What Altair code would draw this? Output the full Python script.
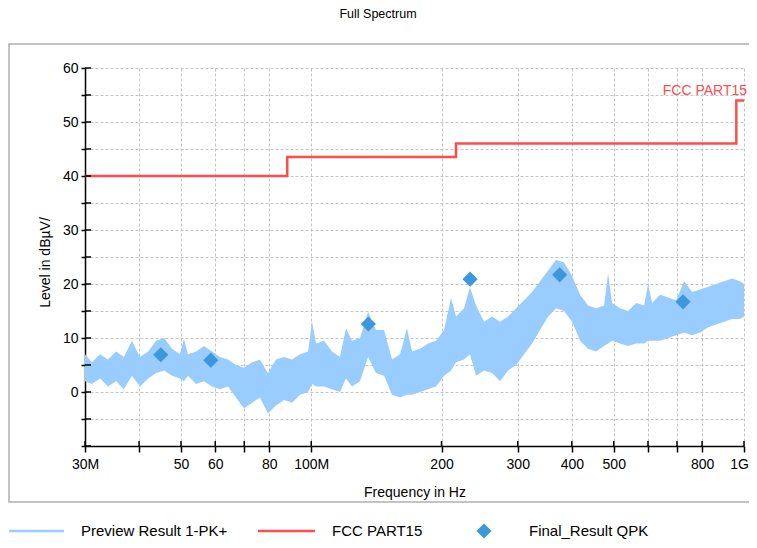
import altair as alt
import pandas as pd

# ---- data ----
freq_mhz = [30.0, 31.1, 32.5, 33.9, 35.4, 36.9, 38.5, 40.2, 42.0, 43.8, 45.7, 47.7, 49.7, 50.8,
            51.9, 54.2, 56.5, 59.0, 61.5, 64.2, 67.0, 69.9, 73.0, 76.1, 79.4, 82.9, 86.5, 90.3,
            94.2, 98.3, 100.4, 102.6, 107.0, 111.7, 116.5, 120.3, 124.2, 129.6, 135.3, 141.1,
            147.3, 153.7, 160.4, 166.4, 171.0, 178.4, 186.2, 194.3, 202.7, 210.4, 216.1, 225.4,
            232.7, 240.3, 250.8, 261.7, 273.1, 285.0, 297.4, 310.3, 323.8, 337.9, 352.6, 367.9,
            383.9, 400.6, 418.0, 436.2, 455.2, 475.0, 485.2, 495.6, 517.2, 539.7, 563.2, 587.7,
            600.3, 613.2, 639.9, 667.7, 696.8, 727.1, 758.7, 791.7, 826.2, 862.1, 899.6, 938.7,
            979.5, 1000.0]
band_hi = [7.0, 5.5, 7.0, 6.0, 7.5, 6.5, 9.5, 6.5, 7.5, 9.5, 10.0, 8.0, 7.0, 9.8,
           7.0, 7.5, 8.5, 7.5, 6.5, 6.0, 5.0, 4.5, 5.5, 6.0, 3.5, 6.0, 6.5, 6.0,
           7.0, 7.5, 13.0, 9.0, 9.5, 7.5, 6.5, 11.8, 9.5, 10.0, 14.8, 11.5,
           11.5, 6.0, 7.0, 11.8, 7.5, 8.0, 9.0, 9.5, 11.5, 17.4, 14.0, 15.5,
           19.4, 16.0, 13.0, 14.0, 13.0, 14.0, 15.5, 17.0, 18.5, 20.5, 22.5, 24.5,
           24.0, 21.5, 18.0, 16.0, 15.5, 16.0, 22.0, 16.5, 15.5, 15.0, 16.5, 16.0,
           20.0, 16.5, 18.0, 17.5, 17.0, 20.5, 18.5, 19.0, 19.5, 20.0, 20.5, 21.0,
           20.5, 20.0]
band_lo = [2.0, 1.5, 2.5, 1.0, 2.0, 0.5, 3.0, 1.0, 2.5, 3.5, 4.0, 3.0, 2.5, 2.0,
           3.0, 1.5, 2.0, 1.0, 0.5, 1.0, -1.0, -3.0, -2.0, -1.0, -4.0, -2.5, -1.5, -2.0,
           -0.5, 0.0, 1.5, 1.0, 1.0, 0.5, 0.0, 2.5, 1.0, 2.0, 6.5, 3.5,
           3.0, -0.5, -1.0, -0.5, -0.5, 0.0, 0.5, 1.0, 3.0, 4.0, 5.5, 6.0,
           7.0, 3.0, 4.0, 3.5, 2.0, 4.0, 5.0, 7.0, 9.0, 11.5, 14.0, 15.5,
           15.0, 13.0, 9.5, 8.0, 7.5, 8.5, 9.0, 9.5, 9.0, 8.5, 9.0, 9.0,
           9.5, 9.5, 9.5, 10.0, 10.5, 11.0, 10.5, 11.0, 12.0, 12.5, 13.0, 13.5,
           13.5, 14.0]

limit_freq = [30, 88, 216, 960, 1000]
limit_level = [40, 43.5, 46, 54, 54]

qpk_freq = [44.9, 58.6, 135.5, 232.8, 375.0, 723.0]
qpk_level = [6.9, 5.9, 12.6, 20.9, 21.7, 16.7]

x_ticks = [30, 40, 50, 60, 70, 80, 100, 200, 300, 400, 500, 600, 700, 800, 1000]
y_ticks = [-10, -5, 0, 5, 10, 15, 20, 25, 30, 35, 40, 45, 50, 55, 60]

legend_labels = ["Preview Result 1-PK+", "FCC PART15", "Final_Result QPK"]
limit_name = "FCC PART15"
chart_title = "Full Spectrum"

# ---- styling ----
W, H = 659, 378
FONT = "Liberation Sans"
BLUE_TRACE = "#99ccff"
BLUE_PT = "#3d97dd"
RED = "#ff4d4d"

xs = alt.Scale(type="log", domain=[30, 1000], nice=False)
ys = alt.Scale(domain=[-10, 60], nice=False)

x_label_expr = ("datum.value == 30 ? '30M' : datum.value == 100 ? '100M' : "
                "datum.value == 1000 ? '1G' : "
                "(datum.value == 40 || datum.value == 70 || datum.value == 600 || datum.value == 700) ? '' : "
                "format(datum.value, 'd')")
xaxis = alt.Axis(values=x_ticks, labelExpr=x_label_expr, title="Frequency in Hz",
                 tickSize=6, labelPadding=5, titleY=46, titleBaseline="middle",
                 labelOffset={"condition": {"test": "datum.value == 1000", "value": -5}, "value": 0},
                 labelFlush=False, labelOverlap=False, grid=True)
yaxis = alt.Axis(values=y_ticks,
                 labelExpr="(datum.value % 10 == 0 && datum.value >= 0) ? format(datum.value, 'd') : ''",
                 title="Level in dBµV/", tickSize=4, labelPadding=3,
                 titleX=-40, titleY=194, titleAngle=-90, titleAlign="center",
                 titleBaseline="middle", labelFlush=False, labelOverlap=False, grid=True)


def X(field="freq"):
    return alt.X(f"{field}:Q", scale=xs, axis=xaxis)


def Y(field="level"):
    return alt.Y(f"{field}:Q", scale=ys, axis=yaxis)


band_df = pd.DataFrame({"freq": freq_mhz, "level": band_hi, "lo": band_lo})
limit_df = pd.DataFrame({"freq": limit_freq, "level": limit_level})
qpk_df = pd.DataFrame({"freq": qpk_freq, "level": qpk_level})
xt_df = pd.DataFrame({"freq": x_ticks})
yt_df = pd.DataFrame({"level": y_ticks})
lab_df = pd.DataFrame({"freq": [limit_freq[-1]], "level": [limit_level[-1]], "t": [limit_name]})
one = pd.DataFrame({"a": [0]})

band = alt.Chart(band_df).mark_area(color=BLUE_TRACE, interpolate="linear").encode(
    x=X(), y=Y(), y2="lo:Q")

limit = alt.Chart(limit_df).mark_line(color=RED, strokeWidth=2.5, interpolate="step-after").encode(
    x=X(), y=Y())

pts = alt.Chart(qpk_df).mark_point(shape="diamond", filled=True, size=230, color=BLUE_PT, opacity=1).encode(
    x=X(), y=Y())

xin = alt.Chart(xt_df).mark_rule(color="black", strokeWidth=1.5).encode(
    x=X(), y=alt.value(H - 5), y2=alt.value(H))
yin = alt.Chart(yt_df).mark_rule(color="black", strokeWidth=1.5).encode(
    y=Y(), x=alt.value(0), x2=alt.value(6))

lim_label = alt.Chart(lab_df).mark_text(color=RED, font=FONT, fontSize=14, align="right",
                                        baseline="middle", dx=3, dy=-9).encode(
    x=X(), y=Y(), text="t:N")

title = alt.Chart(one).mark_text(font=FONT, fontSize=12.5, align="center", baseline="middle",
                                 color="black").encode(
    x=alt.value(293), y=alt.value(-54), text=alt.value(chart_title))

frame = alt.Chart(one).mark_rect(fillOpacity=0, stroke="#b0b0b0", strokeWidth=1.5).encode(
    x=alt.value(-76), x2=alt.value(760), y=alt.value(-24), y2=alt.value(434))

LY = 463
leg1 = alt.Chart(one).mark_rule(color=BLUE_TRACE, strokeWidth=2.5).encode(
    x=alt.value(-76), x2=alt.value(-21), y=alt.value(LY))
leg2 = alt.Chart(one).mark_rule(color=RED, strokeWidth=2.5).encode(
    x=alt.value(173), x2=alt.value(230), y=alt.value(LY))
leg3 = alt.Chart(one).mark_point(shape="diamond", filled=True, size=230, color=BLUE_PT, opacity=1).encode(
    x=alt.value(399), y=alt.value(LY))


def leg_text(x, s):
    return alt.Chart(one).mark_text(font=FONT, fontSize=15, align="left", baseline="middle",
                                    color="black").encode(
        x=alt.value(x), y=alt.value(LY), text=alt.value(s))


chart = alt.layer(
    frame, band, limit, xin, yin, pts, lim_label, title,
    leg1, leg2, leg3,
    leg_text(-4, legend_labels[0]), leg_text(247, legend_labels[1]), leg_text(444, legend_labels[2]),
).properties(
    width=W, height=H,
    padding={"left": 77, "top": 60, "right": 5, "bottom": 94},
    autosize=alt.AutoSizeParams(type="none"),
    background="white",
).configure_view(strokeWidth=0).configure_axis(
    domainColor="black", domainWidth=1.5, tickColor="black", tickWidth=1.5,
    labelFont=FONT, labelFontSize=14, labelColor="black",
    titleFont=FONT, titleFontSize=14, titleFontWeight="normal", titleColor="black",
    gridColor="#c4c4c4", gridDash=[3, 2], gridWidth=1,
)

chart.save("out.html", embed_options={"renderer": "svg", "actions": False})
